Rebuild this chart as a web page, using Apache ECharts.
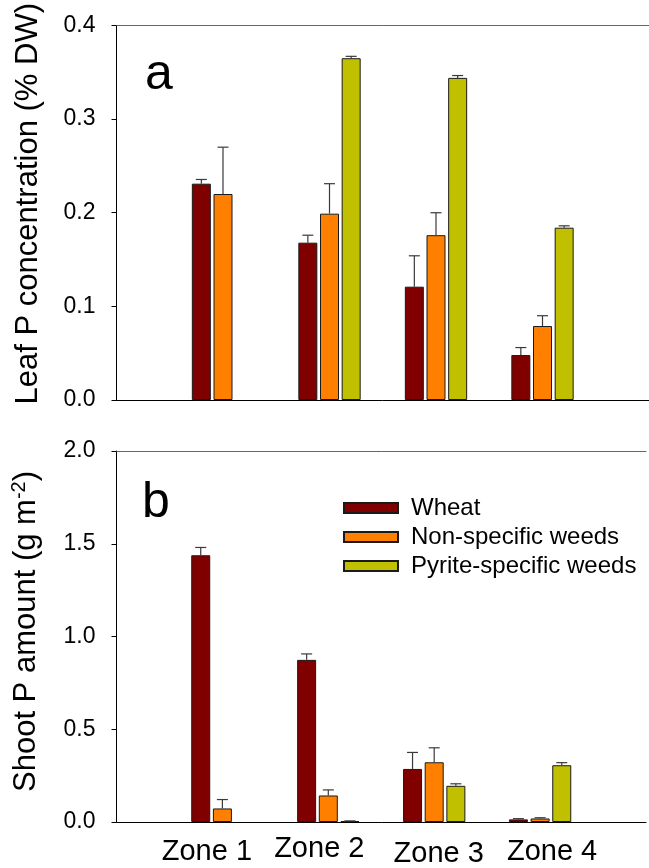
<!DOCTYPE html>
<html>
<head>
<meta charset="utf-8">
<script src="https://cdn.jsdelivr.net/npm/echarts@6/dist/echarts.min.js"></script>
<style>
  html, body { margin: 0; padding: 0; background: #fff; }
  #chart { width: 649px; height: 868px; }
</style>
</head>
<body>
<div id="chart"></div>
<script>
// Categories and series
const zones = ['Zone 1', 'Zone 2', 'Zone 3', 'Zone 4'];
const groups = ['Wheat', 'Non-specific weeds', 'Pyrite-specific weeds'];
const colors = ['#800000', '#ff8000', '#c0c000'];

// Panel a: leaf P concentration (% DW), means and upper error
const leafWheat = [0.231, 0.168, 0.121, 0.048];
const leafWheatErr = [0.0045, 0.008, 0.033, 0.008];
const leafNonSpec = [0.220, 0.199, 0.176, 0.079];
const leafNonSpecErr = [0.050, 0.032, 0.024, 0.011];
const leafPyrite = [null, 0.365, 0.344, 0.184];
const leafPyriteErr = [null, 0.002, 0.0025, 0.002];

// Panel b: shoot P amount (g m-2), means and upper error
const shootWheat = [1.438, 0.874, 0.286, 0.014];
const shootWheatErr = [0.042, 0.032, 0.089, 0.004];
const shootNonSpec = [0.073, 0.143, 0.322, 0.019];
const shootNonSpecErr = [0.048, 0.030, 0.078, 0.004];
const shootPyrite = [null, 0.005, 0.195, 0.306];
const shootPyriteErr = [null, 0.001, 0.011, 0.014];

// Axis ticks
const leafTicks = { min: 0, max: 0.4, interval: 0.1 };
const shootTicks = { min: 0, max: 2.0, interval: 0.5 };

const FONT = 'Liberation Sans, Arial, Helvetica, sans-serif';
const BAR_WIDTH = 19;
const BAR_GAP = 0.14;
const STEP = BAR_WIDTH * (1 + BAR_GAP);

// padded category list so the zones sit at positions 1..4 of a 0..5 axis
const cats = [''].concat(zones).concat(['']);
const pad = arr => [null].concat(arr).concat([null]);

function barSeries(name, idx, values, gridIdx) {
  return {
    type: 'bar',
    name: name,
    xAxisIndex: gridIdx * 2,
    yAxisIndex: gridIdx,
    data: pad(values),
    barWidth: BAR_WIDTH,
    barGap: (BAR_GAP * 100) + '%',
    itemStyle: { color: colors[idx], borderColor: '#1a1a1a', borderWidth: 1 },
    emphasis: { disabled: true },
    z: 2
  };
}

function errorSeries(idx, values, errs, gridIdx) {
  const data = [];
  values.forEach((v, i) => {
    if (v != null && errs[i] != null) data.push([i + 1, v, errs[i]]);
  });
  return {
    type: 'custom',
    xAxisIndex: gridIdx * 2,
    yAxisIndex: gridIdx,
    data: data,
    z: 5,
    silent: true,
    renderItem: function (params, api) {
      const x = api.value(0);
      const v = api.value(1);
      const e = api.value(2);
      const base = api.coord([x, v]);
      const top = api.coord([x, v + e]);
      const cx = base[0] + (idx - 1) * STEP;
      const half = 5.5;
      const style = { stroke: '#3a3a3a', lineWidth: 1.2, fill: null };
      return {
        type: 'group',
        children: [
          { type: 'line', shape: { x1: cx, y1: base[1], x2: cx, y2: top[1] }, style: style },
          { type: 'line', shape: { x1: cx - half, y1: top[1], x2: cx + half, y2: top[1] }, style: style }
        ]
      };
    }
  };
}

function yAxis(gridIdx, ticks, name) {
  return {
    type: 'value',
    gridIndex: gridIdx,
    min: ticks.min,
    max: ticks.max,
    interval: ticks.interval,
    name: name,
    nameLocation: 'middle',
    nameGap: 73,
    nameTextStyle: {
      fontFamily: FONT, fontSize: 31, color: '#000',
      padding: gridIdx === 0 ? [0, 0, 0, 18] : [0, 0, 0, 10],
      rich: {
        sup: { fontFamily: FONT, fontSize: 20, color: '#000', padding: [0, 0, 14, 0] }
      }
    },
    axisLine: { show: true, lineStyle: { color: '#000', width: 1 } },
    axisTick: { show: true, length: 5, inside: false, lineStyle: { color: '#000' } },
    splitLine: { show: false },
    axisLabel: {
      fontFamily: FONT, fontSize: 23, color: '#000', margin: 21,
      formatter: v => v.toFixed(1)
    }
  };
}

const zoneLabelPad = {
  z1: [3, 31, 0, 0],
  z2: [0, 18, 0, 0],
  z3: [5, 0, 0, 9],
  z4: [3, 0, 0, 24]
};
const zoneRich = {};
Object.keys(zoneLabelPad).forEach(k => {
  zoneRich[k] = { fontFamily: FONT, fontSize: 29, color: '#000', padding: zoneLabelPad[k] };
});

function xAxis(gridIdx, showLabels) {
  return {
    type: 'category',
    gridIndex: gridIdx,
    data: cats,
    boundaryGap: false,
    axisLine: { show: true, lineStyle: { color: '#000', width: 1 } },
    axisTick: { show: false },
    splitLine: { show: false },
    axisLabel: {
      show: showLabels,
      interval: 0,
      hideOverlap: false,
      margin: 12,
      fontFamily: FONT, fontSize: 29, color: '#000',
      formatter: (val, i) => val ? '{z' + i + '|' + val + '}' : '',
      rich: zoneRich
    }
  };
}

// plain frame line along the top of each panel
function topFrame(gridIdx) {
  return {
    type: 'value',
    gridIndex: gridIdx,
    position: 'top',
    min: 0, max: 1,
    axisLine: { show: true, lineStyle: { color: '#666', width: 1 } },
    axisTick: { show: false },
    axisLabel: { show: false },
    splitLine: { show: false }
  };
}

const chart = echarts.init(document.getElementById('chart'), null, { renderer: 'canvas' });

const option = {
  backgroundColor: '#fff',
  animation: false,
  grid: [
    { left: 116.5, top: 24, width: 537, height: 376 },
    { left: 116.5, top: 451, width: 537, height: 377 }
  ],
  xAxis: [xAxis(0, false), topFrame(0), xAxis(1, true), topFrame(1)],
  yAxis: [
    yAxis(0, leafTicks, 'Leaf P concentration (% DW)'),
    yAxis(1, shootTicks, 'Shoot P amount (g m{sup|-2})')
  ],
  legend: {
    data: groups,
    orient: 'vertical',
    left: 338,
    top: 491,
    itemWidth: 54,
    itemHeight: 10,
    itemGap: 5,
    icon: 'rect',
    selectedMode: false,
    textStyle: { fontFamily: FONT, fontSize: 24, color: '#000', lineHeight: 24, padding: [0, 0, 0, 8] }
  },
  graphic: [
    { type: 'text', left: 145, top: 50, style: { text: 'a', font: '50px ' + FONT, fill: '#000' } },
    { type: 'text', left: 142, top: 478, style: { text: 'b', font: '50px ' + FONT, fill: '#000' } }
  ],
  series: [
    barSeries(groups[0], 0, leafWheat, 0),
    barSeries(groups[1], 1, leafNonSpec, 0),
    barSeries(groups[2], 2, leafPyrite, 0),
    errorSeries(0, leafWheat, leafWheatErr, 0),
    errorSeries(1, leafNonSpec, leafNonSpecErr, 0),
    errorSeries(2, leafPyrite, leafPyriteErr, 0),
    barSeries(groups[0], 0, shootWheat, 1),
    barSeries(groups[1], 1, shootNonSpec, 1),
    barSeries(groups[2], 2, shootPyrite, 1),
    errorSeries(0, shootWheat, shootWheatErr, 1),
    errorSeries(1, shootNonSpec, shootNonSpecErr, 1),
    errorSeries(2, shootPyrite, shootPyriteErr, 1)
  ]
};

chart.setOption(option);
</script>
</body>
</html>
